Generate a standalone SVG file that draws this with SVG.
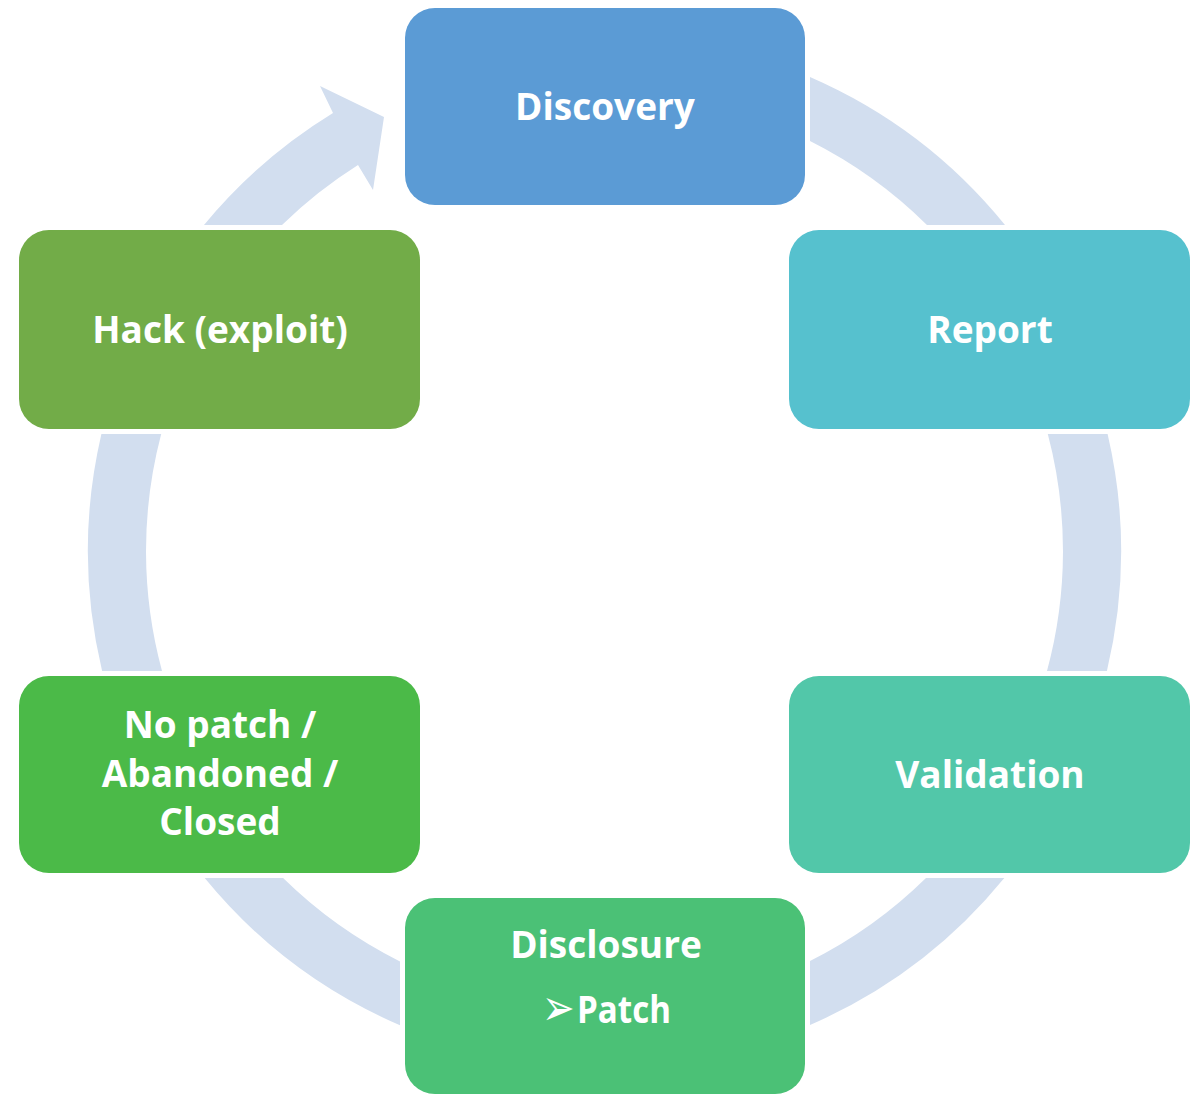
<svg xmlns="http://www.w3.org/2000/svg" width="1200" height="1094" viewBox="0 0 1200 1094">
  <style>
    .ring { fill: #D2DEEF; stroke: none; }
    .box { stroke: none; }
    .lbl { font-family: "Open Sans", "Liberation Sans", sans-serif; font-weight: 700; font-size: 37px; fill: #FFFFFF; text-anchor: middle; }
    .bul { font-family: "DejaVu Sans", sans-serif; font-size: 39px; fill: #FFFFFF; }
  </style>
  <rect width="1200" height="1094" fill="#FFFFFF"/>
  <g id="connectors">
    <path class="ring" d="M 810,77 A 516.5 516.5 0 0 1 1005,225 L 927,225 A 458.5 458.5 0 0 0 810,141 Z"/>
    <path class="ring" d="M 1107.6,434 A 516.5 516.5 0 0 1 1106.9,671 L 1047,671 A 458.5 458.5 0 0 0 1047.8,434 Z"/>
    <path class="ring" d="M 1004.3,878 A 516.5 516.5 0 0 1 810,1025 L 810,961 A 458.5 458.5 0 0 0 926,878 Z"/>
    <path class="ring" d="M 400,1025.3 A 516.5 516.5 0 0 1 204.7,878 L 283.1,878 A 458.5 458.5 0 0 0 400,961.4 Z"/>
    <path class="ring" d="M 102.1,671 A 516.5 516.5 0 0 1 101.4,434 L 161.2,434 A 458.5 458.5 0 0 0 162,671 Z"/>
    <path class="ring" d="M 204,225 A 516.5 516.5 0 0 1 333,113 L 320,86 L 384,117 L 373,190 L 358,165 A 458.5 458.5 0 0 0 282,225 Z"/>
  </g>
  <g id="node-discovery">
    <rect class="box" x="405" y="8" width="400" height="197" rx="30" fill="#5B9BD5"/>
    <text class="lbl" x="605" y="120">Discovery</text>
  </g>
  <g id="node-report">
    <rect class="box" x="789" y="230" width="401" height="199" rx="30" fill="#56C1CE"/>
    <text class="lbl" x="990" y="343">Report</text>
  </g>
  <g id="node-validation">
    <rect class="box" x="789" y="676" width="401" height="197" rx="30" fill="#52C7A9"/>
    <text class="lbl" x="990" y="788">Validation</text>
  </g>
  <g id="node-disclosure">
    <rect class="box" x="405" y="898" width="400" height="196" rx="30" fill="#4BC176"/>
    <text class="lbl" x="606" y="958">Disclosure</text>
    <text class="bul" transform="translate(542,1025) scale(1,1.3)" x="0" y="0">➢</text>
    <text class="lbl" x="577" y="1023" style="text-anchor:start" textLength="94" lengthAdjust="spacingAndGlyphs">Patch</text>
  </g>
  <g id="node-nopatch">
    <rect class="box" x="19" y="676" width="401" height="197" rx="30" fill="#4BBA48"/>
    <text class="lbl" x="220" y="738">No patch /</text>
    <text class="lbl" x="220" y="787">Abandoned /</text>
    <text class="lbl" x="220" y="835">Closed</text>
  </g>
  <g id="node-hack">
    <rect class="box" x="19" y="230" width="401" height="199" rx="30" fill="#72AC48"/>
    <text class="lbl" x="220" y="343">Hack (exploit)</text>
  </g>
</svg>
